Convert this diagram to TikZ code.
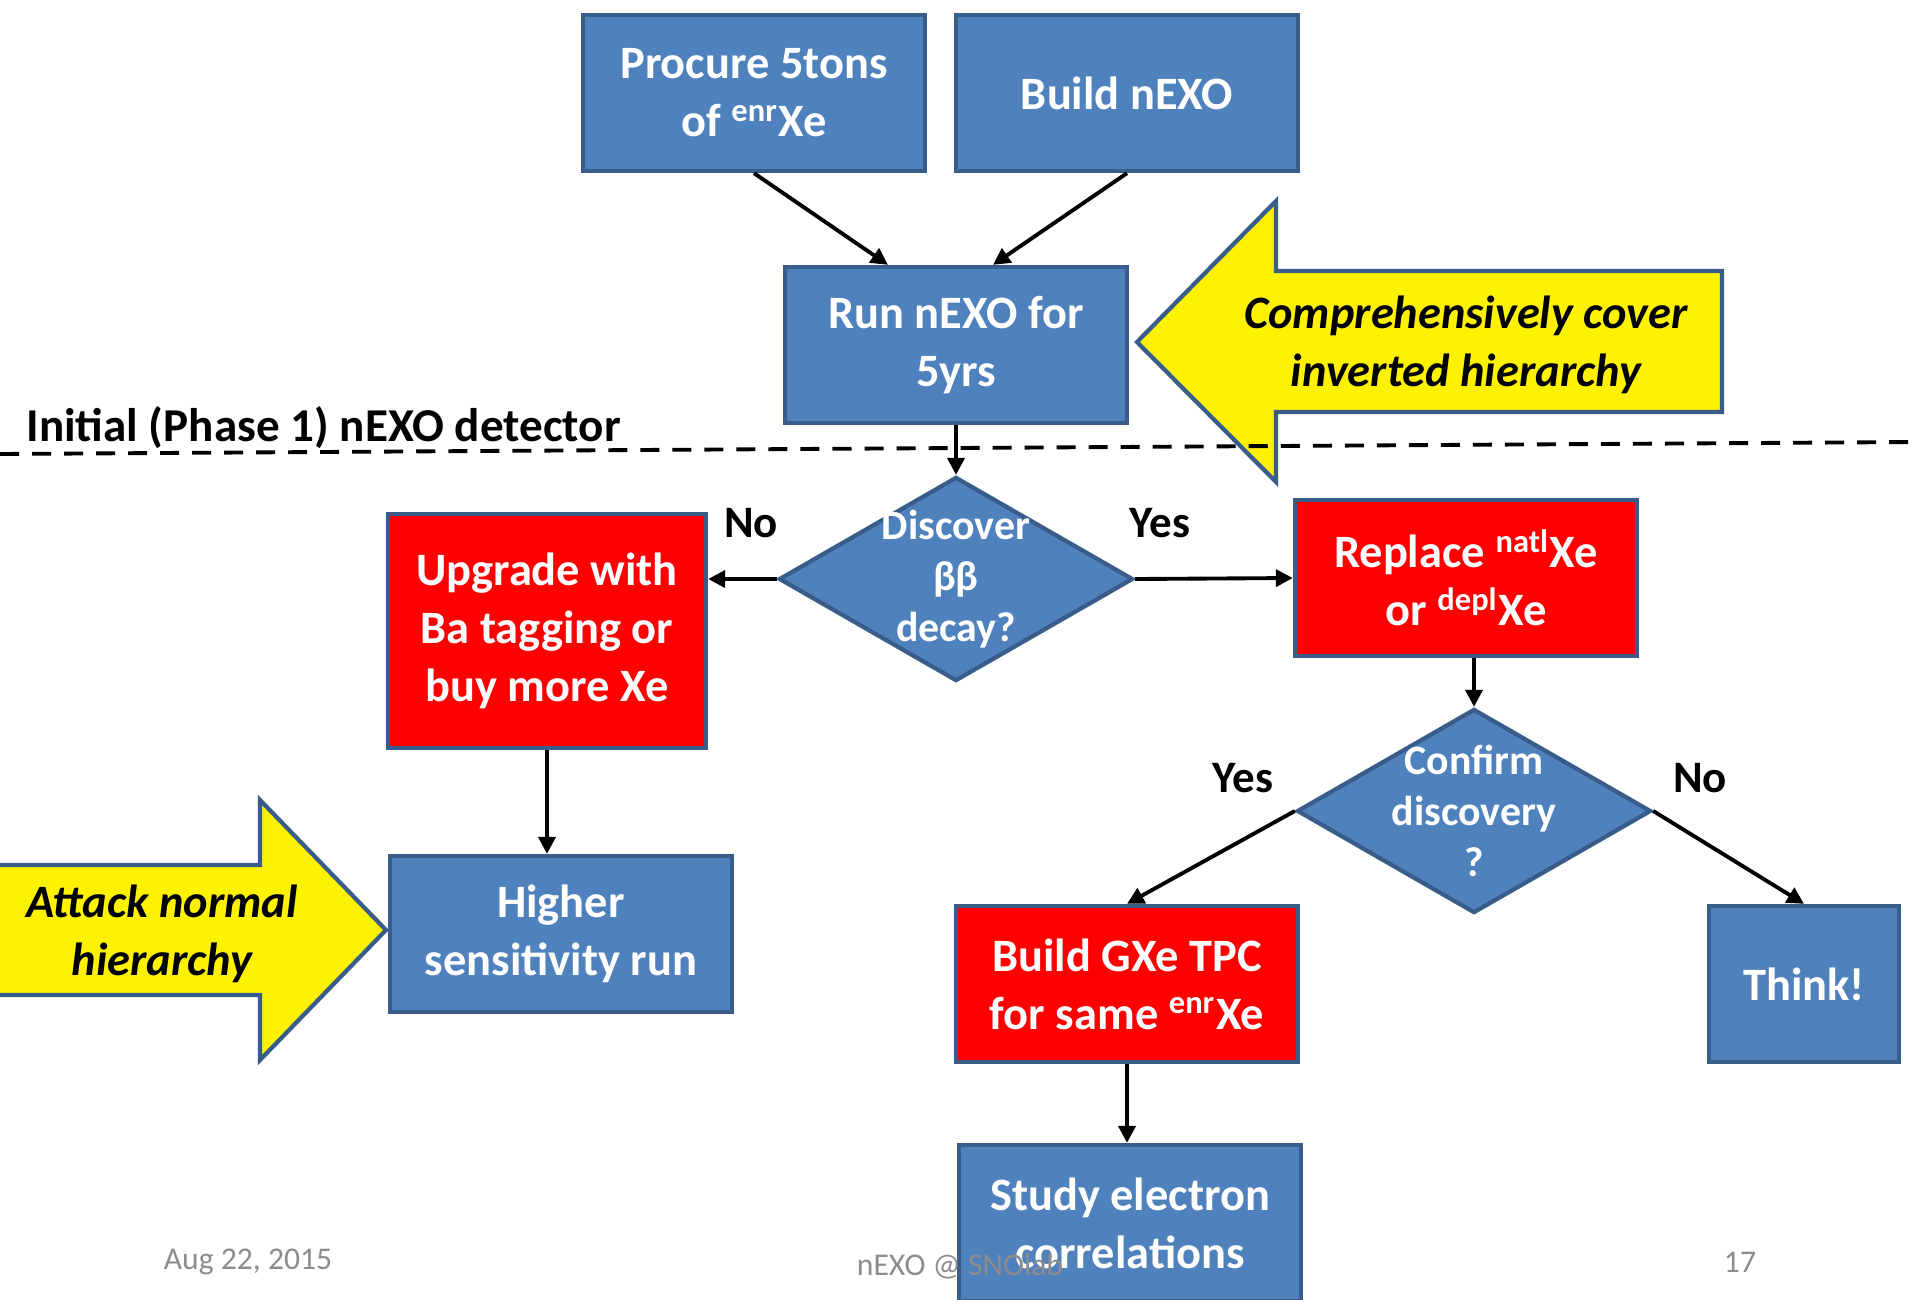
\documentclass[tikz,border=0pt]{standalone}
\usepackage{fontspec}
\setmainfont{Carlito}
\usetikzlibrary{arrows.meta,shapes.geometric}
\definecolor{boxblue}{HTML}{4F81BD}
\definecolor{boxedge}{HTML}{385D8A}
\definecolor{footgray}{HTML}{8C8C8C}

\begin{document}
\begin{tikzpicture}[
      x=0.01cm, y=-0.01cm,
      mybox/.style={
         rectangle,
         draw=boxedge,
         fill=boxblue,
         line width=1.2pt,
         text=white,
         align=center,
         inner sep=0pt,
         minimum width=3.42cm,
         minimum height=1.56cm,
         font=\bfseries\fontsize{13.2}{16.5}\selectfont},
      redbox/.style={mybox, fill=red},
      mydiamond/.style={
         diamond,
         draw=boxedge,
         fill=boxblue,
         line width=1.2pt,
         inner sep=0pt,
         minimum width=3.54cm,
         minimum height=2.04cm},
      difftext/.style={text=white, align=center, font=\bfseries\fontsize{11.9}{14.5}\selectfont},
      bigarrow/.style={draw=boxedge, fill=yellow, line width=1.2pt, line join=miter},
      arrowtext/.style={align=center, font=\bfseries\itshape\fontsize{13.2}{16.5}\selectfont},
      answer/.style={font=\bfseries\fontsize{12.8}{15}\selectfont},
      footer/.style={text=footgray, font=\fontsize{9}{11}\selectfont},
      phaseline/.style={dash pattern=on 0.19cm off 0.13cm, line width=1.1pt},
      myarrow/.style={-{Triangle[length=4.8pt,width=4.8pt]}, line width=1.1pt}
      ]
      \useasboundingbox (0,0) rectangle (1915,1299);

      % big yellow arrows
      \draw[bigarrow] (1722,271) -- (1276,271) -- (1276,201) -- (1137,342)
         -- (1276,482) -- (1276,412) -- (1722,412) -- cycle;
      \node[arrowtext] (covertxt) at (1466,345) {Comprehensively cover\\inverted hierarchy};
      \draw[bigarrow] (-10,865) -- (260,865) -- (260,800) -- (386,930)
         -- (260,1060) -- (260,995) -- (-10,995) -- cycle;
      \node[arrowtext] (attacktxt) at (162,934) {Attack normal\\hierarchy};

      % phase 1 boundary
      \coordinate (dashl) at (0,454);
      \coordinate (dashr) at (1915,442);
      \draw[phaseline] (dashl) -- (dashr);
      \node[answer, font=\bfseries\fontsize{13.4}{16}\selectfont, anchor=west] (phase) at (14,428)
         {Initial (Phase 1) nEXO detector};

      \node[mybox] (procure) at (754,93) {Procure 5tons\\of \textsuperscript{enr}Xe};
      \node[mybox] (build) at (1127,93) {Build nEXO};
      \node[mybox] (run) at (956,345) {Run nEXO for\\5yrs};
      \node[mydiamond] (discover) at (956,579) {};
      \node[difftext] (discovertxt) at (discover) {Discover\\ββ\\decay?};
      \node[redbox, minimum width=3.18cm, minimum height=2.34cm] (upgrade) at (547,631)
         {Upgrade with\\Ba tagging or\\buy more Xe};
      \node[redbox] (replace) at (1466,578) {Replace \textsuperscript{natl}Xe\\or \textsuperscript{depl}Xe};
      \node[mydiamond] (confirm) at (1474,811) {};
      \node[difftext] (confirmtxt) at (confirm) {Confirm\\discovery\\?};
      \node[mybox] (higher) at (561,934) {Higher\\sensitivity run};
      \node[redbox] (gxe) at (1127,984) {Build GXe TPC\\for same \textsuperscript{enr}Xe};
      \node[mybox, minimum width=1.9cm] (think) at (1804,984) {Think!};
      \node[mybox] (study) at (1130,1223) {Study electron\\correlations};

    \foreach \i/\j in {% start anchor/end anchor
      run.south/discover.north,
      discover.east/replace.west,
      confirm.west/gxe.north,
      confirm.east/think.north}
       \draw[myarrow] (\i) -- (\j);

     % these end off-centre, so outside the loop
     \draw[myarrow] (procure.south) -- ([xshift=-0.68cm]run.north);
     \draw[myarrow] (build.south) -- ([xshift=0.37cm]run.north);
     \draw[myarrow] (discover.west) -- (discover.west -| upgrade.east);
     \draw[myarrow] (upgrade.south) -- (upgrade.south |- higher.north);
     \draw[myarrow] (confirm.north |- replace.south) -- (confirm.north);
     \draw[myarrow] (gxe.south) -- (gxe.south |- study.north);

      \node[answer] (no1) at (751,523) {No};
      \node[answer] (yes1) at (1160,523) {Yes};
      \node[answer] (yes2) at (1243,778) {Yes};
      \node[answer] (no2) at (1700,778) {No};

      \node[footer] (date) at (248,1262) {Aug 22, 2015};
      \node[footer] (venue) at (960,1266) {nEXO @ SNOlab};
      \node[footer] (page) at (1740,1262) {17};
\end{tikzpicture}
\end{document}
